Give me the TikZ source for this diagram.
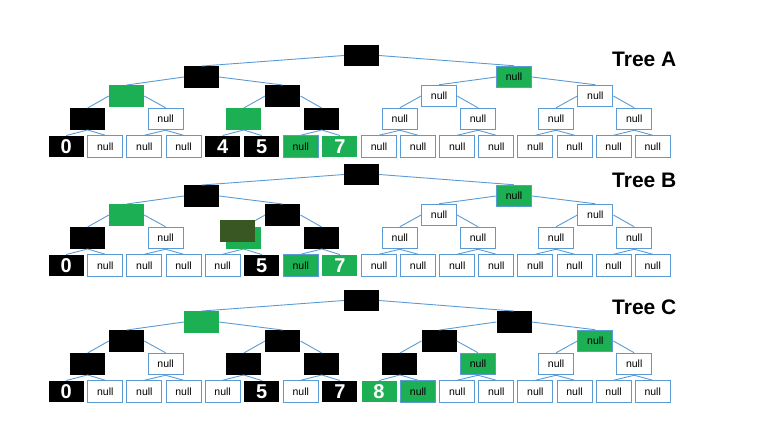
\documentclass[tikz,border=0pt]{standalone}
\usepackage{fontspec}
\setmainfont{Liberation Sans}
\definecolor{linkblue}{RGB}{91,155,213}
\definecolor{keygreen}{RGB}{28,175,84}
\definecolor{darkolive}{RGB}{56,87,35}

\tikzset{
  box/.style={rectangle, minimum width=35pt, minimum height=21.5pt, inner sep=0pt},
  blk/.style={box, fill=black, text=white, font=\fontsize{20}{24}\selectfont\bfseries},
  grn/.style={box, fill=keygreen, text=white, font=\fontsize{20}{24}\selectfont\bfseries},
  nul/.style={box, fill=white, draw=linkblue, line width=1pt, font=\fontsize{10.5}{12}\selectfont},
  gnul/.style={box, fill=keygreen, draw=linkblue, line width=1pt, font=\fontsize{10.5}{12}\selectfont},
  link/.style={draw=linkblue, line width=0.9pt},
  treename/.style={anchor=base west, inner sep=0pt, font=\fontsize{21}{25}\selectfont\bfseries}
}

% #1 tree name, #2 vertical shift, #3 level 1, #4 level 2, #5 level 3, #6 leaves
\newcommand{\growtree}[6]{%
  \node[blk] (#1-1) at (361.5,{55.5+#2}) {};
  \foreach \s/\t [count=\i from 2] in {#3}
    \node[\s] (#1-\i) at ({201.5+312.5*(\i-2)},{77+#2}) {\t};
  \foreach \s/\t [count=\i from 4] in {#4}
    \node[\s] (#1-\i) at ({126.5+156.3*(\i-4)},{96+#2}) {\t};
  \foreach \s/\t [count=\i from 8] in {#5}
    \node[\s] (#1-\i) at ({87.5+78.1*(\i-8)},{119+#2}) {\t};
  \foreach \s/\t [count=\i from 16] in {#6}
    \node[\s] (#1-\i) at ({66.2+39.1*(\i-16)},{146.5+#2}) {\t};
  % connectors
  \foreach \i in {2,...,15}{
    \pgfmathtruncatemacro\up{\i/2}
    \ifodd\i \def\side{east}\else\def\side{west}\fi
    \draw[link] (#1-\up.\side) -- (#1-\i.north);
  }
  \foreach \i in {16,...,31}{
    \pgfmathtruncatemacro\up{\i/2}
    \draw[link] (#1-\up.south) -- (#1-\i.north);
  }
}

\begin{document}
\begin{tikzpicture}[x=1pt, y=-1pt]
  \useasboundingbox (0,0) rectangle (764,432);

  % Tree A
  \growtree{A}{0}
    {blk/{}, gnul/null}
    {grn/{}, blk/{}, nul/null, nul/null}
    {blk/{}, nul/null, grn/{}, blk/{}, nul/null, nul/null, nul/null, nul/null}
    {blk/0, nul/null, nul/null, nul/null, blk/4, blk/5, gnul/null, grn/7,
     nul/null, nul/null, nul/null, nul/null, nul/null, nul/null, nul/null, nul/null}

  % Tree B
  \growtree{B}{119}
    {blk/{}, gnul/null}
    {grn/{}, blk/{}, nul/null, nul/null}
    {blk/{}, nul/null, grn/{}, blk/{}, nul/null, nul/null, nul/null, nul/null}
    {blk/0, nul/null, nul/null, nul/null, nul/null, blk/5, gnul/null, grn/7,
     nul/null, nul/null, nul/null, nul/null, nul/null, nul/null, nul/null, nul/null}
  \node[box, fill=darkolive] (ghost) at (237.5,231) {};

  % Tree C
  \growtree{C}{245}
    {grn/{}, blk/{}}
    {blk/{}, blk/{}, blk/{}, gnul/null}
    {blk/{}, nul/null, blk/{}, blk/{}, blk/{}, gnul/null, nul/null, nul/null}
    {blk/0, nul/null, nul/null, nul/null, nul/null, blk/5, nul/null, blk/7,
     grn/8, gnul/null, nul/null, nul/null, nul/null, nul/null, nul/null, nul/null}

  \node[treename] (nameA) at (612,66) {Tree A};
  \node[treename] (nameB) at (612,187.7) {Tree B};
  \node[treename] (nameC) at (612,314.7) {Tree C};
\end{tikzpicture}
\end{document}
